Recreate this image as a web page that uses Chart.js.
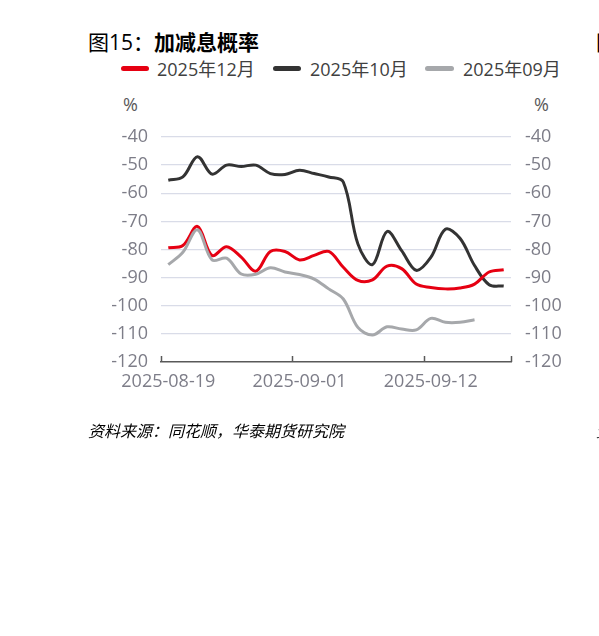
<!DOCTYPE html>
<html>
<head>
<meta charset="utf-8">
<script src="https://cdn.jsdelivr.net/npm/chart.js@4.4.1/dist/chart.umd.min.js"></script>
<style>
  html, body { margin: 0; padding: 0; background: #fff; overflow: hidden; width: 599px; height: 636px; }
  .t { position: absolute; white-space: nowrap; font-family: "Open Sans", "Noto Sans CJK SC", sans-serif; }
  #title { left: 88px; top: 29px; font-size: 21px; line-height: 26px; color: #000; }
  #title b { font-weight: 700; }
  .lg { font-size: 18px; line-height: 22px; color: #404040; top: 58px; }
  .sw { position: absolute; top: 66px; height: 5px; border-radius: 3px; }
  .pct { font-size: 18px; line-height: 22px; color: #595959; top: 93px; }
  #src { left: 88px; top: 420px; font-size: 16px; line-height: 20px; font-style: italic; color: #000; font-family: "Noto Sans CJK SC", sans-serif; }
  #wrap { position: absolute; left: 0; top: 0; width: 599px; height: 420px; }
</style>
</head>
<body>
<div id="title" class="t">图15：<b>加减息概率</b></div>
<div class="t" style="left:596px;top:29px;font-size:21px;line-height:26px;color:#000;">图16</div>

<div class="sw" style="left:121px;width:28px;background:#e60012;"></div>
<div class="t lg" style="left:157px;">2025年12月</div>
<div class="sw" style="left:273px;width:28px;background:#333333;"></div>
<div class="t lg" style="left:310px;">2025年10月</div>
<div class="sw" style="left:425px;width:29px;background:#a6a8ab;"></div>
<div class="t lg" style="left:463px;">2025年09月</div>

<div class="t pct" style="left:123px;">%</div>
<div class="t pct" style="left:534px;">%</div>

<div id="wrap"><canvas id="c"></canvas></div>

<div id="src" class="t">资料来源：同花顺，华泰期货研究院</div>
<div class="t" style="left:596px;top:420px;font-size:16px;line-height:20px;font-style:italic;color:#000;font-family:'Noto Sans CJK SC';">资料</div>

<script>
const dates = ['2025-08-19','2025-08-20','2025-08-21','2025-08-22','2025-08-25','2025-08-26','2025-08-27','2025-08-28','2025-08-29',
  '2025-09-01','2025-09-02','2025-09-03','2025-09-04','2025-09-05','2025-09-08','2025-09-09','2025-09-10','2025-09-11',
  '2025-09-12','2025-09-15','2025-09-16','2025-09-17','2025-09-18','2025-09-19'];
const xTickLabels = ['2025-08-19','2025-09-01','2025-09-12'];
const xTickBoundaries = [0, 9, 18, 24];

const dec2025 = [-79.4, -78.6, -71.8, -82.1, -79.0, -82.7, -87.7, -80.7, -80.7, -83.7, -82.1, -80.7,
  -86.3, -91.0, -90.8, -85.9, -86.8, -92.3, -93.5, -94.0, -93.7, -92.3, -88.0, -87.2];
const oct2025 = [-55.4, -54.2, -47.0, -53.2, -50.0, -50.5, -50.0, -53.0, -53.3, -51.8, -53.0, -54.2,
  -56.0, -78.0, -85.4, -73.6, -80.4, -87.4, -82.8, -72.8, -76.0, -85.7, -92.5, -93.0];
const sep2025 = [-85.4, -81.0, -73.0, -83.7, -83.1, -88.7, -88.8, -86.5, -88.0, -88.9, -90.5, -94.0,
  -97.6, -107.7, -110.4, -107.5, -108.3, -108.6, -104.5, -105.9, -105.9, -105.0, null, null];

const yMin = -120, yMax = -40, yStep = 10;

const tickFont = { family: '"Open Sans", "Noto Sans CJK SC", sans-serif', size: 18 };
const tickColor = '#7d7d88';

const tickMarks = {
  id: 'tickMarks',
  afterDraw(chart) {
    const xs = chart.scales.x;
    const ctx = chart.ctx;
    const b = chart.chartArea.bottom;
    ctx.save();
    ctx.strokeStyle = '#595959';
    ctx.lineWidth = 1.5;
    xTickBoundaries.forEach(i => {
      const x = Math.round(xs.getPixelForValue(i - 0.5)) + 0.5;
      ctx.beginPath();
      ctx.moveTo(x, b);
      ctx.lineTo(x, b - 6);
      ctx.stroke();
    });
    ctx.restore();
  }
};

new Chart(document.getElementById('c'), {
  type: 'line',
  data: {
    labels: dates,
    datasets: [
      { label: '2025年09月', data: sep2025, borderColor: '#a6a8ab', borderWidth: 3, pointRadius: 0, tension: 0.35, yAxisID: 'y' },
      { label: '2025年12月', data: dec2025, borderColor: '#e60012', borderWidth: 3, pointRadius: 0, tension: 0.35, yAxisID: 'y' },
      { label: '2025年10月', data: oct2025, borderColor: '#333333', borderWidth: 3, pointRadius: 0, tension: 0.35, yAxisID: 'y' }
    ]
  },
  options: {
    responsive: true,
    maintainAspectRatio: false,
    animation: false,
    layout: { padding: { top: 137, left: 0, right: 0, bottom: 0 } },
    plugins: { legend: { display: false }, tooltip: { enabled: false } },
    scales: {
      x: {
        type: 'category',
        offset: true,
        grid: { display: true, drawOnChartArea: false, drawTicks: false },
        border: { display: true, color: '#595959', width: 1.5 },
        ticks: {
          autoSkip: false, maxRotation: 0, minRotation: 0, padding: 9,
          color: tickColor, font: tickFont,
          callback: (v, i) => xTickLabels.includes(dates[i]) ? dates[i] : ''
        },
        afterFit: s => { s.height = 58; }
      },
      y: {
        position: 'left', min: yMin, max: yMax,
        ticks: { stepSize: yStep, padding: 13, color: tickColor, font: tickFont },
        grid: { color: c => (c.tick && c.tick.value === yMin) ? 'rgba(0,0,0,0)' : '#d9dce8', lineWidth: 1.3, drawTicks: false },
        border: { display: false },
        afterFit: s => { s.width = 161; }
      },
      y2: {
        position: 'right', min: yMin, max: yMax,
        ticks: { stepSize: yStep, padding: 14, color: tickColor, font: tickFont },
        grid: { display: false, drawTicks: false },
        border: { display: false },
        afterFit: s => { s.width = 88; }
      }
    }
  },
  plugins: [tickMarks]
});
</script>
</body>
</html>
